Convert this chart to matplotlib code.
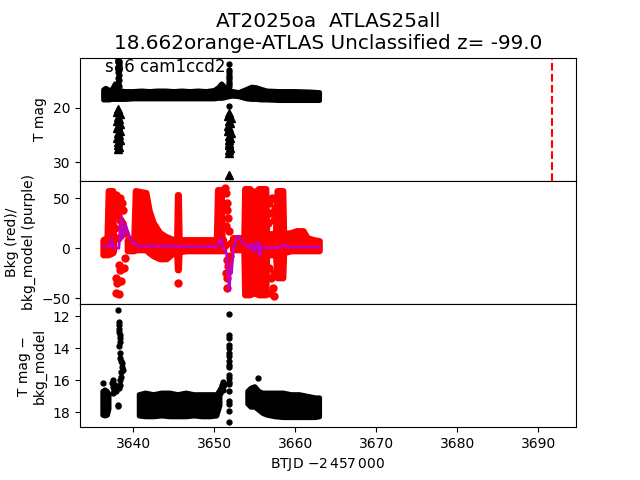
import numpy as np
import matplotlib
matplotlib.use("Agg")
import matplotlib.pyplot as plt

nan = np.nan

# ---------------- data ----------------
TITLE = "AT2025oa  ATLAS25all\n18.662orange-ATLAS Unclassified z= -99.0"
LABEL_TXT = "s86 cam1ccd2"
VLINE_T = 3691.7

# Top panel: T mag dense band envelope
TOP_T = [3636.3, 3636.6, 3637.0, 3637.4, 3637.75, 3638.0, 3638.5, 3639.0, 3640.0, 3641.0,
         3642.0, 3643.0, 3644.0, 3645.0, 3646.0, 3647.0, 3648.0, 3649.0, 3650.0, 3650.5,
         3650.9, 3651.3, 3651.8, 3652.3, 3653.0, 3654.0, 3654.6, 3655.2, 3655.8, 3656.5,
         3658.0, 3660.0, 3662.0, 3663.0]
TOP_HI = [16.7, 16.4, 16.8, 16.6, 15.6, 16.3, 16.9, 17.0, 17.0, 16.9,
          17.0, 16.9, 16.9, 17.0, 16.9, 17.0, 16.9, 17.0, 16.8, 16.3,
          15.6, 16.2, 16.8, 17.0, 17.2, 16.6, 16.2, 16.3, 16.6, 16.9,
          17.0, 17.0, 17.1, 17.2]
TOP_LO = [18.6, 18.6, 18.6, 18.5, 18.5, 18.5, 18.5, 18.5, 18.4, 18.4,
          18.4, 18.4, 18.4, 18.4, 18.4, 18.4, 18.4, 18.4, 18.4, 18.3,
          18.3, 18.2, 18.0, 17.9, 18.0, 18.4, 18.5, 18.5, 18.6, 18.6,
          18.7, 18.7, 18.7, 18.7]
# Top panel: detections (dots) outside the band
TOP_DOT_T = [3638.15, 3638.15, 3638.2, 3638.15, 3638.2, 3638.15, 3638.2, 3638.15, 3638.2, 3638.15, 3638.2,
             3651.85, 3651.85, 3651.85, 3651.85, 3651.85, 3651.85, 3651.85, 3651.85, 3651.85, 3651.85]
TOP_DOT_M = [11.0, 11.5, 12.0, 12.5, 13.0, 13.5, 14.0, 14.5, 15.0, 15.5, 16.0,
             12.0, 13.0, 13.5, 14.0, 14.4, 14.8, 15.2, 15.6, 16.0, 19.7]
# Top panel: upper limits (triangles)
TOP_TRI_T = [3638.15, 3638.0, 3638.3, 3638.1, 3638.25, 3637.95, 3638.35, 3638.15, 3638.0, 3638.3,
             3638.1, 3638.2, 3638.0, 3638.3, 3638.15, 3638.1, 3638.2, 3638.15,
             3651.85, 3651.7, 3652.0, 3651.8, 3651.95, 3651.65, 3651.85, 3651.7, 3652.0, 3651.8,
             3651.9, 3651.75, 3651.85, 3651.8, 3651.9, 3651.85, 3651.8, 3651.85]
TOP_TRI_M = [20.3, 20.8, 21.2, 21.7, 22.1, 22.5, 22.9, 23.3, 23.8, 24.2,
             24.6, 25.0, 25.5, 25.9, 26.3, 26.8, 27.2, 27.6,
             21.0, 21.5, 21.9, 22.4, 22.8, 23.3, 23.7, 24.2, 24.6, 25.1,
             25.5, 26.0, 26.4, 26.9, 27.3, 27.8, 28.3, 32.3]

# Middle panel: background (red) dense envelope, NaN separates segments
RED_T = [3636.3, 3636.8, 3636.95, 3637.5, 3637.6, nan,
         3639.3, 3640.1, 3640.3, 3641.6, 3642.0, 3642.5, 3643.3, 3644.1, 3645.0, 3645.4,
         3645.5, 3645.6, 3645.7, 3646.5, 3647.5, 3648.5, 3649.5, 3650.3, 3650.45, 3650.9,
         3651.0, 3651.2, nan,
         3652.3, 3653.0, 3653.7, 3653.8, 3654.4, 3655.0, 3655.5, 3656.4, 3656.5, 3657.6,
         3657.8, 3658.5, 3658.6, 3659.5, 3660.2, 3661.0, 3661.5, 3662.3, 3663.0]
RED_HI = [8, 10, 57, 57, 5, nan,
          8, 8, 57, 55, 37, 25, 15, 11, 8, 8,
          53, 53, 8, 8, 8, 8, 8, 8, 58, 58,
          8, 8, nan,
          10, 10, 10, 59, 59, 55, 59, 59, 14, 14,
          57, 57, 14, 15, 17, 17, 10, 8, 7]
RED_LO = [-7, -7, -7, -5, -3, nan,
          -3, -3, -2, -2, -5, -8, -11, -11, -5, -4,
          -22, -22, -4, -3, -3, -3, -3, -3, -3, -3,
          -3, -3, nan,
          -2, -2, -2, -47, -47, -45, -47, -47, -7, -7,
          -30, -30, -5, -3, -3, -3, -3, -3, -3]
# Middle panel: scattered background points
RED_DOT_T = [3637.8, 3637.9, 3638.0, 3638.1, 3638.3, 3638.4, 3638.6, 3638.7, 3638.2, 3638.3,
             3637.9, 3638.0, 3638.5, 3637.8, 3638.2, 3638.6, 3638.9, 3639.0, 3638.8, 3637.7,
             3638.1, 3645.55,
             3651.3, 3651.4, 3651.6, 3651.5, 3651.7, 3651.4, 3651.8, 3651.5, 3651.7, 3651.4,
             3651.6, 3651.5, 3651.9, 3652.0, 3651.3,
             3656.7, 3656.9, 3657.1, 3657.3, 3656.8, 3657.0, 3657.2, 3657.4, 3656.6, 3657.5,
             3657.3, 3656.9]
RED_DOT_V = [53, 47, 40, 33, 50, 28, 45, 38, -17, -22,
             -30, -35, -33, -45, -46, 25, 15, -10, -20, 20,
             10, -35,
             60, 55, 45, 38, 30, 22, 17, -12, -18, -25,
             -30, -40, -8, 5, 3,
             45, 35, 50, 28, -20, -30, -40, -25, 25, 40,
             -48, -45]
# Middle panel: background model (purple line)
PUR_T = [3636.3, 3637.0, 3637.15, 3637.3, 3637.45, 3637.7, 3638.2, 3638.35, 3638.5, 3638.65,
         3638.8, 3639.0, 3639.4, 3639.8, 3640.4, 3641.0, 3642.0, 3643.0, 3644.0, 3645.0,
         3646.0, 3647.0, 3648.0, 3649.0, 3650.0, 3650.5, 3650.8, 3651.1, 3651.5, 3651.85,
         3651.95, 3652.1, 3652.35, 3652.8, 3653.2, 3653.8, 3654.4, 3654.6, 3654.8, 3655.0,
         3655.2, 3655.4, 3655.6, 3655.7, 3656.0, 3657.0, 3658.0, 3658.5, 3659.0, 3660.0,
         3661.0, 3662.0, 3663.0]
PUR_V = [2, 2, 4, 10, 2, 0, 0, 20, 31, 10,
         12, 24, 14, 7, 2.5, 1.5, 2, 2, 2, 2,
         1.5, 1.5, 1.5, 1.5, 1.5, 3, 10, 0, -5, -42,
         -20, -25, 0, 12, 9, 3, 0, 5, -3, 4,
         -2, 6, -8, 2, 0, 0.5, 0.5, 4, 1, 1,
         1, 1, 1]

# Bottom panel: T mag - bkg_model dense envelope
BOT_T = [3636.2, 3636.5, 3636.8, 3637.0, nan,
         3640.7, 3641.5, 3642.5, 3643.5, 3644.5, 3645.5, 3646.5, 3647.5, 3648.5, 3649.5, 3650.3, 3650.7, nan,
         3654.1, 3654.5, 3655.0, 3655.5, 3656.0, 3656.5, 3657.5, 3658.5, 3659.5, 3660.5, 3661.5, 3662.5, 3663.0]
BOT_HI = [16.7, 16.6, 16.7, 16.9, nan,
          16.9, 16.8, 16.9, 16.8, 16.8, 16.9, 16.8, 16.9, 16.9, 16.9, 16.9, 16.6, nan,
          16.7, 16.5, 16.4, 16.7, 16.8, 16.8, 16.8, 16.8, 16.9, 16.9, 17.0, 17.1, 17.1]
BOT_LO = [18.2, 18.25, 18.2, 17.8, nan,
          18.25, 18.3, 18.3, 18.25, 18.3, 18.3, 18.3, 18.25, 18.3, 18.3, 18.25, 17.6, nan,
          17.5, 17.7, 17.7, 17.9, 18.1, 18.2, 18.3, 18.35, 18.35, 18.35, 18.35, 18.35, 18.3]
BOT_DOT_T = [3636.3, 3637.4, 3637.5, 3637.6, 3637.5, 3637.7, 3637.8, 3637.45,
             3638.15, 3638.2, 3638.2, 3638.25, 3638.25, 3638.3, 3638.3, 3638.3, 3638.25, 3638.35,
             3638.4, 3638.45, 3638.55, 3638.6, 3638.7, 3638.5, 3638.45, 3638.4, 3638.3, 3638.25,
             3638.15, 3638.05,
             3650.75, 3650.85, 3650.95, 3651.05, 3651.15, 3651.0,
             3651.85, 3651.85, 3651.85, 3651.85, 3651.85, 3651.85, 3651.85, 3651.85, 3651.85, 3651.85,
             3651.85, 3651.85, 3651.85, 3651.85, 3651.85, 3651.85, 3651.85, 3651.85, 3651.85,
             3655.35]
BOT_DOT_M = [16.2, 16.2, 16.4, 16.6, 16.0, 16.3, 16.7, 16.8,
             11.6, 12.35, 12.55, 12.8, 13.0, 13.2, 13.4, 13.6, 13.85, 14.3,
             14.6, 14.8, 14.95, 15.2, 15.35, 15.5, 15.8, 16.0, 16.3, 16.5,
             17.6, 17.55,
             16.8, 16.5, 16.3, 16.1, 16.3, 16.6,
             11.9, 13.2, 13.4, 13.8, 14.0, 14.3, 14.5, 14.8, 15.05, 15.2,
             15.7, 15.9, 16.1, 16.25, 16.7, 17.3, 17.5, 17.9, 18.6,
             15.9]

X_TICKS = [3640, 3650, 3660, 3670, 3680, 3690]


def band(ax, t, lo, hi, color, lw):
    """Draw each NaN-separated segment of a dense point cloud as a filled outline."""
    t = np.asarray(t, float)
    lo = np.asarray(lo, float)
    hi = np.asarray(hi, float)
    breaks = np.where(np.isnan(t))[0]
    starts = np.r_[0, breaks + 1]
    ends = np.r_[breaks, len(t)]
    for s, e in zip(starts, ends):
        ts, ls, hs = t[s:e], lo[s:e], hi[s:e]
        xs = np.r_[ts, ts[::-1]]
        ys = np.r_[hs, ls[::-1]]
        ax.fill(xs, ys, facecolor=color, edgecolor=color, linewidth=lw,
                joinstyle='round')


fig, axes = plt.subplots(3, 1, sharex=True, figsize=(6.4, 4.8), dpi=100)
plt.subplots_adjust(hspace=0)
ax1, ax2, ax3 = axes

# top
band(ax1, TOP_T, TOP_LO, TOP_HI, 'k', 3.4)
ax1.plot(TOP_DOT_T, TOP_DOT_M, 'o', color='k', ms=3.5)
ax1.plot(TOP_TRI_T, TOP_TRI_M, '^', color='k', ms=6)
ax1.axvline(VLINE_T, color='r', ls='--', lw=1.5)
ax1.set_ylim(33.4, 10.8)
ax1.set_yticks([20, 30])
ax1.set_ylabel("T mag")
ax1.set_title(TITLE, fontsize=14.4)
ax1.text(0.05, 0.995, LABEL_TXT, transform=ax1.transAxes, ha='left', va='top', fontsize=12)

# middle
band(ax2, RED_T, RED_LO, RED_HI, 'r', 4.5)
ax2.plot(RED_DOT_T, RED_DOT_V, 'o', color='r', ms=5)
ax2.plot(PUR_T, PUR_V, '-', color='m', lw=2)
ax2.set_ylim(-55.7, 67.3)
ax2.set_yticks([-50, 0, 50])
ax2.set_ylabel("Bkg (red)/\nbkg_model (purple)")

# bottom
band(ax3, BOT_T, BOT_LO, BOT_HI, 'k', 3.4)
ax3.plot(BOT_DOT_T, BOT_DOT_M, 'o', color='k', ms=3.5)
ax3.set_ylim(18.94, 11.25)
ax3.set_yticks([12, 14, 16, 18])
ax3.set_ylabel("T mag \u2212\nbkg_model")
ax3.set_xlim(3633.4, 3694.65)
ax3.set_xticks(X_TICKS)
ax3.set_xlabel(r"BTJD $-2\,457\,000$")

fig.savefig("out.png", dpi=100)
